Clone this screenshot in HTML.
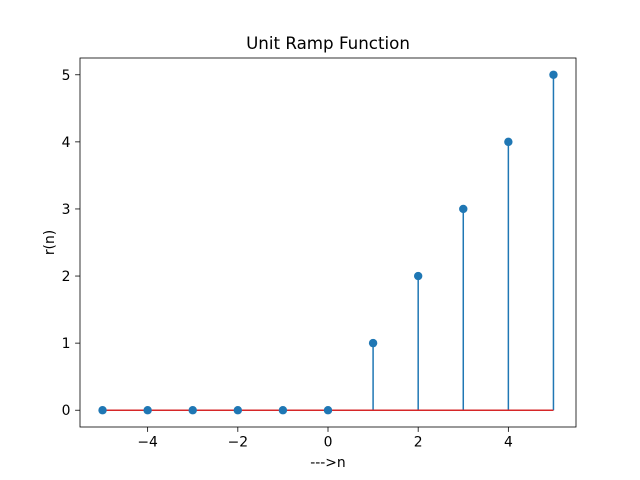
<!DOCTYPE html>
<html><head><meta charset="utf-8"><style>body{margin:0;background:#fff}svg{display:block;font-family:"DejaVu Sans","Liberation Sans",sans-serif}</style></head>
<body>
<svg id="chart" width="640" height="480"></svg>
<script>
const nValues = [-5,-4,-3,-2,-1,0,1,2,3,4,5];
const rValues = [0,0,0,0,0,0,1,2,3,4,5];
const xTicks = [-4,-2,0,2,4];
const xTickLabels = ["\u22124","\u22122","0","2","4"];
const yTicks = [0,1,2,3,4,5];
const yTickLabels = ["0","1","2","3","4","5"];
const L=80,R=576,T=58,B=427;
const xmin=-5.5,xmax=5.5,ymin=-0.25,ymax=5.25;
const sx=v=>L+(v-xmin)/(xmax-xmin)*(R-L);
const sy=v=>B-(v-ymin)/(ymax-ymin)*(B-T);
const svg=document.getElementById('chart');
const NS='http://www.w3.org/2000/svg';
function mk(tag,attrs,parent){const e=document.createElementNS(NS,tag);for(const k in attrs)e.setAttribute(k,attrs[k]);(parent||svg).appendChild(e);return e;}
function txt(s,attrs){const e=mk('text',attrs);e.textContent=s;return e;}
nValues.forEach((n,i)=>{
  const l=mk('line',{x1:sx(n),x2:sx(n),y1:sy(0),y2:sy(rValues[i]),stroke:'#1f77b4','stroke-width':1.5});
  
  
});
const bl=mk('line',{x1:sx(nValues[0]),x2:sx(nValues[nValues.length-1]),y1:sy(0),y2:sy(0),stroke:'#d62728','stroke-width':1.5});


nValues.forEach((n,i)=>{
  const c=mk('circle',{cx:sx(n),cy:sy(rValues[i]),r:4.2,fill:'#1f77b4'});
  
  
});
const fr=mk('rect',{x:L,y:T,width:R-L,height:B-T,fill:'none',stroke:'#000','stroke-width':0.8});


xTicks.forEach((v,i)=>{
  mk('line',{x1:sx(v),x2:sx(v),y1:B,y2:B+4.9,stroke:'#000','stroke-width':0.8});
  const t=txt(xTickLabels[i],{x:sx(v),y:B+19.5,'text-anchor':'middle','font-size':13.9});
  
  
});
yTicks.forEach((v,i)=>{
  mk('line',{x1:L-4.9,x2:L,y1:sy(v),y2:sy(v),stroke:'#000','stroke-width':0.8});
  const t=txt(yTickLabels[i],{x:L-9.5,y:sy(v)+5,'text-anchor':'end','font-size':13.9});
  
  
});
const title=txt('Unit Ramp Function',{x:(L+R)/2,y:49,'text-anchor':'middle','font-size':16.7});


const xl=txt('--->n',{x:(L+R)/2,y:467,'text-anchor':'middle','font-size':13.9});


const yl=txt('r(n)',{x:0,y:0,'text-anchor':'middle','font-size':13.9,transform:`translate(54,${(T+B)/2}) rotate(-90)`});


</script>
</body></html>
